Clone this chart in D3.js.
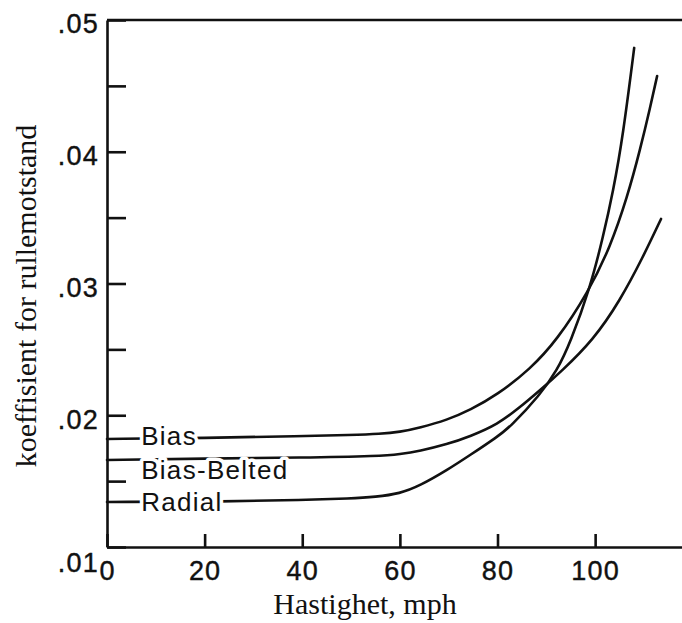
<!DOCTYPE html>
<html>
<head>
<meta charset="utf-8">
<script src="https://cdn.jsdelivr.net/npm/d3@7"></script>
<style>
  body { margin: 0; background: #fff; }
  svg { display: block; }
  .axis text { font-family: "Liberation Sans", Arial, sans-serif; font-size: 27px; letter-spacing: 1.2px; fill: #111;
               stroke: #111; stroke-width: 0.4; }
  .axis path, .axis line { stroke: #111; stroke-width: 2.6; }
  .title { font-family: "Liberation Serif", "Times New Roman", serif; font-size: 30px; fill: #111; }
  .label { font-family: "Liberation Sans", Arial, sans-serif; font-size: 26px; letter-spacing: 1.3px; fill: #111;
           stroke: #fff; stroke-width: 7; stroke-linejoin: round; paint-order: stroke; }
</style>
</head>
<body>
<div id="chart"></div>
<script>
// speed in mph, rolling resistance coefficient
const biasSpeed = [0, 20, 40, 50, 56, 60, 64, 69.7, 74.4, 79.9, 86.7, 92.2, 98.6, 103.1, 106.6, 109.2, 111.3, 112.7];
const biasCoef = [0.0182, 0.01827, 0.01842, 0.0185, 0.01858, 0.01873, 0.01905, 0.01964, 0.0204, 0.02154, 0.0235, 0.02571, 0.02935, 0.03277, 0.03657, 0.04013, 0.0434, 0.04575];

const beltedSpeed = [0, 20, 40, 56, 60, 64, 69.7, 74.4, 80, 84.6, 88.7, 93, 99.6, 105.1, 109.8, 113.5];
const beltedCoef = [0.0166, 0.01672, 0.01678, 0.01691, 0.01705, 0.01728, 0.0178, 0.0184, 0.0193, 0.0206, 0.0219, 0.0233, 0.0257, 0.0287, 0.032, 0.0349];

const radialSpeed = [0, 25, 40, 50, 55, 60, 64.1, 69.7, 74.4, 79.9, 82.6, 88.7, 92.2, 94.9, 99, 101.6, 103.7, 105.7, 108];
const radialCoef = [0.01342, 0.01345, 0.01357, 0.01368, 0.0138, 0.01405, 0.01465, 0.01584, 0.01698, 0.01835, 0.01911, 0.02154, 0.0234, 0.0255, 0.0297, 0.0335, 0.037, 0.0412, 0.04788];

const seriesNames = ["Bias", "Bias-Belted", "Radial"];

const xTicks = [0, 20, 40, 60, 80, 100];
const yTicks = [0.01, 0.015, 0.02, 0.025, 0.03, 0.035, 0.04, 0.045, 0.05];
const yTickLabels = [".01", "", ".02", "", ".03", "", ".04", "", ".05"];

const width = 682;
const height = 623;
const margin = { top: 20, right: -1, bottom: 76, left: 107 };

const x = d3.scaleLinear()
  .domain([0, 118])
  .range([margin.left, width - margin.right]);

const y = d3.scaleLinear()
  .domain([0.01, 0.05])
  .range([height - margin.bottom, margin.top]);

const svg = d3.select("#chart")
  .append("svg")
  .attr("width", width)
  .attr("height", height);

const series = [
  { name: seriesNames[0], speed: biasSpeed, coef: biasCoef, dy: 6 },
  { name: seriesNames[1], speed: beltedSpeed, coef: beltedCoef, dy: 19 },
  { name: seriesNames[2], speed: radialSpeed, coef: radialCoef, dy: 9 },
].map((s) => ({
  ...s,
  values: s.speed.map((v, i) => ({ v, c: s.coef[i] })),
}));

const line = d3.line()
  .x((d) => x(d.v))
  .y((d) => y(d.c))
  .curve(d3.curveBasis);

svg.append("g")
  .attr("fill", "none")
  .attr("stroke", "#111")
  .attr("stroke-width", 2.6)
  .attr("stroke-linecap", "round")
  .selectAll("path")
  .data(series)
  .join("path")
  .attr("d", (d) => line(d.values));

// labels sit on the start of each curve
svg.append("g")
  .selectAll("text")
  .data(series)
  .join("text")
  .attr("class", "label")
  .attr("x", x(7))
  .attr("y", (d) => y(d.coef[0]) + d.dy)
  .text((d) => d.name);

// x axis
svg.append("g")
  .attr("class", "axis")
  .attr("transform", `translate(0,${y(0.01)})`)
  .call(d3.axisBottom(x).tickValues(xTicks).tickSize(-13).tickSizeOuter(0).tickPadding(14))
  .call((g) => g.selectAll("text").attr("dy", "0.71em"));

// y axis
svg.append("g")
  .attr("class", "axis")
  .attr("transform", `translate(${x(0)},0)`)
  .call(
    d3.axisLeft(y)
      .tickValues(yTicks)
      .tickFormat((d, i) => yTickLabels[i])
      .tickSize(-19)
      .tickSizeOuter(0)
      .tickPadding(8)
  )
  .call((g) => g.selectAll("text").attr("dy", "0.48em"))
  .call((g) => g.selectAll(".tick").filter((d) => d === 0.01).select("text").attr("dy", "0.9em"));

// top frame line
svg.append("line")
  .attr("x1", x.range()[0])
  .attr("x2", x.range()[1])
  .attr("y1", y(0.05))
  .attr("y2", y(0.05))
  .attr("stroke", "#111")
  .attr("stroke-width", 2.6);

svg.append("text")
  .attr("class", "title")
  .attr("x", 365)
  .attr("y", 614)
  .attr("text-anchor", "middle")
  .text("Hastighet, mph");

svg.append("text")
  .attr("class", "title")
  .attr("transform", "translate(36,296) rotate(-90)")
  .attr("text-anchor", "middle")
  .text("koeffisient for rullemotstand");
</script>
</body>
</html>
